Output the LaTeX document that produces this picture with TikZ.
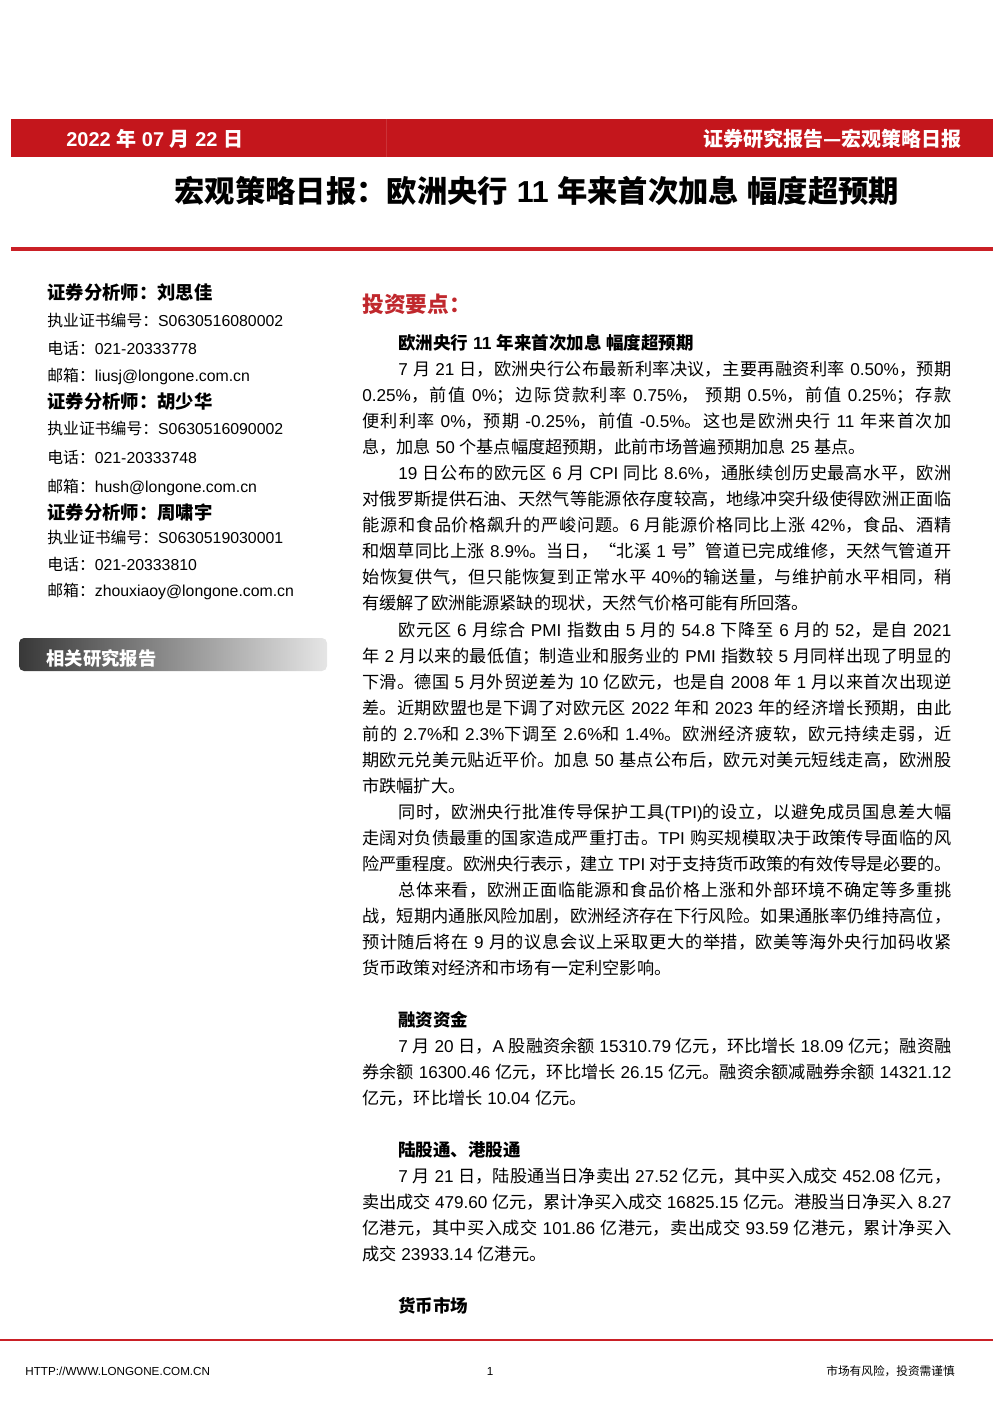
\documentclass[tikz,border=0pt]{standalone}
\usepackage{fontspec}
\usepackage{xcolor}
\setmainfont{Liberation Sans}
\newfontfamily\hanfont{Noto Sans CJK SC}
\newfontfamily\latinfont{Liberation Sans}
% chinese text: own font, breaks and stretch between characters
\XeTeXlinebreaklocale "zh"
\XeTeXlinebreakskip=0pt plus 1.5pt minus 0.5pt
\XeTeXinterchartokenstate=1
\newXeTeXintercharclass\hanclass
\newcount\hancode
\newcommand\sethanrange[2]{\hancode=#1\relax
  \loop\XeTeXcharclass\hancode=\hanclass\relax
  \ifnum\hancode<#2\relax\advance\hancode by 1\relax\repeat}
\sethanrange{"4E00}{"9FFF}
\sethanrange{"3000}{"303F}
\sethanrange{"FF00}{"FFEF}
\XeTeXcharclass"2014=\hanclass
\XeTeXcharclass"201C=\hanclass
\XeTeXcharclass"201D=\hanclass
\XeTeXinterchartoks 0 \hanclass = {\hanfont}
\XeTeXinterchartoks 4095 \hanclass = {\hanfont}
\XeTeXinterchartoks \hanclass 0 = {\latinfont}
\XeTeXinterchartoks \hanclass 4095 = {\latinfont}
\definecolor{bandred}{RGB}{196,22,28}
\definecolor{rulered}{RGB}{202,32,38}
\definecolor{keyred}{RGB}{192,40,45}
\newcommand\bandsize{\fontsize{12pt}{14pt}\selectfont}
\newcommand\titlesize{\fontsize{18.2pt}{22pt}\selectfont}
\newcommand\namesize{\fontsize{11pt}{13pt}\selectfont}
\newcommand\infosize{\fontsize{9.5pt}{12pt}\selectfont}
\newcommand\keysize{\fontsize{13pt}{16pt}\selectfont}
\newcommand\subsize{\fontsize{10.5pt}{13pt}\selectfont}
\newcommand\bodysize{\fontsize{10.3pt}{15.66pt}\selectfont}
\newcommand\footsize{\fontsize{7pt}{9pt}\selectfont}
\tikzset{
  band text/.style={
    text=white,
    font=\bandsize\bfseries,
    inner sep=0pt,
  },
  analyst/.style={
    anchor=base west,
    inner sep=0pt,
    font=\namesize\bfseries,
  },
  info line/.style={
    anchor=base west,
    inner sep=0pt,
    font=\infosize,
  },
  sub head/.style={
    anchor=base west,
    inner sep=0pt,
    font=\subsize\bfseries,
  },
  body par/.style={
    anchor=base west,
    inner sep=0pt,
    text width=353.4pt,
    align=justify,
    font=\bodysize,
    execute at begin node={\linepenalty=1000 \hspace*{21.6pt}},
  },
  foot text/.style={
    anchor=base,
    inner sep=0pt,
    font=\footsize,
  },
  report bar/.style={
    rounded corners=3pt,
    left color=black!78,
    right color=black!10,
  }
}
\begin{document}
\begin{tikzpicture}[x=0.6pt,y=-0.6pt]
        \useasboundingbox (0,0) rectangle (993,1404);

        % header band and title
        \fill [bandred] (11,119) rectangle (993,157);
        \draw [bandred!88!white, line width=0.4pt] (386,119) -- (386,157);
        \node [band text, anchor=base west] (date) at (66,146) {2022 年 07 月 22 日};
        \node [band text, anchor=base east] (series) at (962,146) {证券研究报告—宏观策略日报};
        \node [anchor=base, inner sep=0pt, font=\titlesize\bfseries] (title) at (537,202) {宏观策略日报：欧洲央行 11 年来首次加息 幅度超预期};
        \draw [rulered, line width=2pt] (11,249) -- (993,249);

        % analysts
        \node [analyst] (name1) at (47,299) {证券分析师：刘思佳};
        \node [info line] (cert1) at (47,326) {执业证书编号：S0630516080002};
        \node [info line] (tel1) at (47,354) {电话：021-20333778};
        \node [info line] (mail1) at (47,381) {邮箱：liusj@longone.com.cn};
        \node [analyst] (name2) at (47,408) {证券分析师：胡少华};
        \node [info line] (cert2) at (47,434) {执业证书编号：S0630516090002};
        \node [info line] (tel2) at (47,463) {电话：021-20333748};
        \node [info line] (mail2) at (47,492) {邮箱：hush@longone.com.cn};
        \node [analyst] (name3) at (47,519) {证券分析师：周啸宇};
        \node [info line] (cert3) at (47,543) {执业证书编号：S0630519030001};
        \node [info line] (tel3) at (47,570) {电话：021-20333810};
        \node [info line] (mail3) at (47,596) {邮箱：zhouxiaoy@longone.com.cn};

        \shade [report bar] (19,638) rectangle (327,671);
        \node [analyst, text=white] (related) at (46,665) {相关研究报告};

        % key points
        \node [anchor=base west, inner sep=0pt, font=\keysize\bfseries, text=keyred] (keys) at (362,312) {投资要点：};
        \node [sub head] (head1) at (398,349) {欧洲央行 11 年来首次加息 幅度超预期};
        \node [body par] (para1) at (362,375) {7 月 21 日，欧洲央行公布最新利率决议，主要再融资利率 0.50\%，预期\linebreak
0.25\%，前值 0\%；边际贷款利率 0.75\%， 预期 0.5\%，前值 0.25\%；存款\linebreak
便利利率 0\%，预期 -0.25\%，前值 -0.5\%。这也是欧洲央行 11 年来首次加\linebreak
息，加息 50 个基点幅度超预期，此前市场普遍预期加息 25 基点。};
        \node [body par] (para2) at (362,479) {19 日公布的欧元区 6 月 CPI 同比 8.6\%，通胀续创历史最高水平，欧洲\linebreak
对俄罗斯提供石油、天然气等能源依存度较高，地缘冲突升级使得欧洲正面临\linebreak
能源和食品价格飙升的严峻问题。6 月能源价格同比上涨 42\%，食品、酒精\linebreak
和烟草同比上涨 8.9\%。当日，“北溪 1 号”管道已完成维修，天然气管道开\linebreak
始恢复供气，但只能恢复到正常水平 40\%的输送量，与维护前水平相同，稍\linebreak
有缓解了欧洲能源紧缺的现状，天然气价格可能有所回落。};
        \node [body par] (para3) at (362,636) {欧元区 6 月综合 PMI 指数由 5 月的 54.8 下降至 6 月的 52，是自 2021\linebreak
年 2 月以来的最低值；制造业和服务业的 PMI 指数较 5 月同样出现了明显的\linebreak
下滑。德国 5 月外贸逆差为 10 亿欧元，也是自 2008 年 1 月以来首次出现逆\linebreak
差。近期欧盟也是下调了对欧元区 2022 年和 2023 年的经济增长预期，由此\linebreak
前的 2.7\%和 2.3\%下调至 2.6\%和 1.4\%。欧洲经济疲软，欧元持续走弱，近\linebreak
期欧元兑美元贴近平价。加息 50 基点公布后，欧元对美元短线走高，欧洲股\linebreak
市跌幅扩大。};
        \node [body par] (para4) at (362,818) {同时，欧洲央行批准传导保护工具(TPI)的设立，以避免成员国息差大幅\linebreak
走阔对负债最重的国家造成严重打击。TPI 购买规模取决于政策传导面临的风\linebreak
险严重程度。欧洲央行表示，建立 TPI 对于支持货币政策的有效传导是必要的。};
        \node [body par] (para5) at (362,896) {总体来看，欧洲正面临能源和食品价格上涨和外部环境不确定等多重挑\linebreak
战，短期内通胀风险加剧，欧洲经济存在下行风险。如果通胀率仍维持高位，\linebreak
预计随后将在 9 月的议息会议上采取更大的举措，欧美等海外央行加码收紧\linebreak
货币政策对经济和市场有一定利空影响。};

        % margin financing
        \node [sub head] (head2) at (398,1026) {融资资金};
        \node [body par] (para6) at (362,1052) {7 月 20 日，A 股融资余额 15310.79 亿元，环比增长 18.09 亿元；融资融\linebreak
券余额 16300.46 亿元，环比增长 26.15 亿元。融资余额减融券余额 14321.12\linebreak
亿元，环比增长 10.04 亿元。};

        % connect schemes
        \node [sub head] (head3) at (398,1156) {陆股通、港股通};
        \node [body par] (para7) at (362,1182) {7 月 21 日，陆股通当日净卖出 27.52 亿元，其中买入成交 452.08 亿元，\linebreak
卖出成交 479.60 亿元，累计净买入成交 16825.15 亿元。港股当日净买入 8.27\linebreak
亿港元，其中买入成交 101.86 亿港元，卖出成交 93.59 亿港元，累计净买入\linebreak
成交 23933.14 亿港元。};

        \node [sub head] (head4) at (398,1312) {货币市场};

        % footer
        \draw [rulered, line width=1pt] (0,1340) -- (993,1340);
        \node [foot text, anchor=base west] (site) at (25,1375) {HTTP://WWW.LONGONE.COM.CN};
        \node [foot text] (page) at (490,1375) {1};
        \node [foot text, anchor=base east] (risk) at (955,1375) {市场有风险，投资需谨慎};
    \end{tikzpicture}
\end{document}
